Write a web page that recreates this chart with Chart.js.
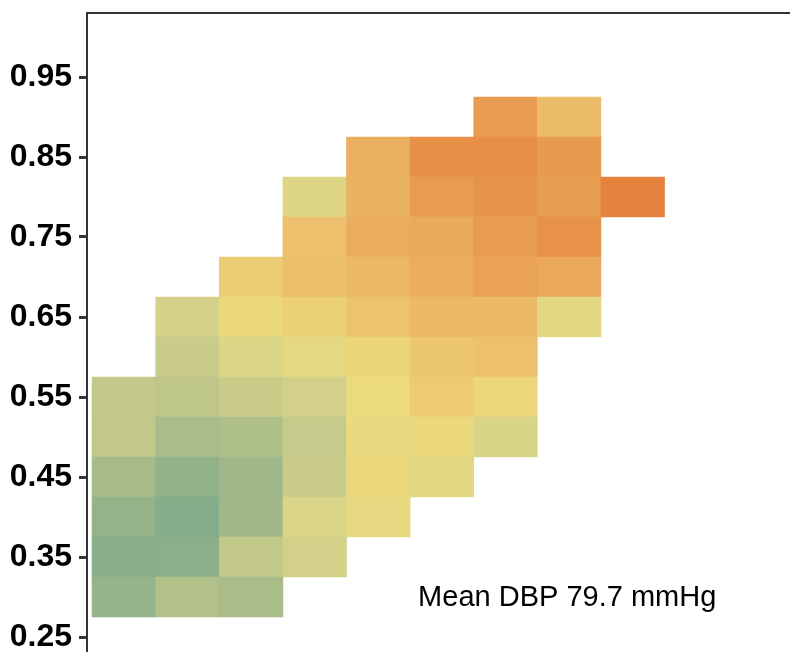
<!DOCTYPE html>
<html><head><meta charset="utf-8">
<script src="https://cdn.jsdelivr.net/npm/chart.js@4.4.1/dist/chart.umd.min.js"></script>
<style>html,body{margin:0;padding:0;overflow:hidden;background:#fff}canvas{display:block}</style>
</head><body>
<canvas id="c" width="800" height="677"></canvas>
<script>
// x bins (column index) and y bin centres
const columns = [1, 2, 3, 4, 5, 6, 7, 8, 9];
const rowCenters = [0.90, 0.85, 0.80, 0.75, 0.70, 0.65, 0.60, 0.55, 0.50, 0.45, 0.40, 0.35, 0.30];
// mean DBP (mmHg) per cell, rows top -> bottom, columns left -> right; null = empty
const dbp = [
  [null, null, null, null, null, null, 87.2, 83.5, null],
  [null, null, null, null, 84.9, 88.5, 88.6, 87.5, null],
  [null, null, null, 78.2, 84.5, 87.2, 88.1, 87.0, 90.0],
  [null, null, null, 83.1, 85.1, 85.5, 87.2, 88.4, null],
  [null, null, 81.75, 83.25, 84.0, 85.1, 86.5, 85.75, null],
  [null, 76.9, 80.25, 81.25, 82.75, 84.0, 84.0, 78.7, null],
  [null, 75.6, 77.75, 79.0, 80.6, 82.5, 83.1, null, null],
  [75.1, 74.7, 75.75, 76.75, 80.0, 81.9, 80.5, null, null],
  [75.0, 73.15, 73.6, 75.4, 79.75, 80.4, 77.25, null, null],
  [73.0, 71.4, 72.4, 75.75, 80.25, 78.7, null, null, null],
  [71.6, 70.3, 72.5, 77.5, 79.25, null, null, null, null],
  [70.6, 70.8, 75.0, 76.75, null, null, null, null, null],
  [71.7, 73.8, 73.25, null, null, null, null, null, null]
];
const yTickValues = [0.25, 0.35, 0.45, 0.55, 0.65, 0.75, 0.85, 0.95];
const meanDBP = 79.7;

// colour map (mmHg -> colour)
const cmapStops = [
  [70, '#80AB8A'], [72.5, '#A0B889'], [75, '#C2C88A'], [77.5, '#DAD588'],
  [80, '#EBDA7E'], [82.5, '#ECC670'], [85, '#EAAE60'], [87.5, '#E89A4F'], [90, '#E5823D']
];
function hex2rgb(h) { return [1, 3, 5].map(i => parseInt(h.substr(i, 2), 16)); }
function colorFor(v) {
  if (v <= cmapStops[0][0]) return cmapStops[0][1];
  for (let i = 1; i < cmapStops.length; i++) {
    if (v <= cmapStops[i][0]) {
      const [v0, c0] = cmapStops[i - 1], [v1, c1] = cmapStops[i];
      const t = (v - v0) / (v1 - v0);
      const a = hex2rgb(c0), b = hex2rgb(c1);
      const m = a.map((x, k) => Math.round(x + (b[k] - x) * t));
      return `rgb(${m[0]},${m[1]},${m[2]})`;
    }
  }
  return cmapStops[cmapStops.length - 1][1];
}

const half = (rowCenters[0] - rowCenters[1]) / 2;
const cells = [];
rowCenters.forEach((yc, r) => columns.forEach((xc, c) => {
  const v = dbp[r][c];
  if (v !== null) cells.push({ x: xc, y: [yc - half, yc + half], v: v });
}));

const meanLabel = {
  id: 'meanLabel',
  afterDraw(chart) {
    const { ctx, scales: { x, y } } = chart;
    ctx.save();
    ctx.font = '29px "Liberation Sans", Arial, sans-serif';
    ctx.fillStyle = '#000';
    ctx.textAlign = 'left';
    ctx.textBaseline = 'alphabetic';
    ctx.fillText('Mean DBP ' + meanDBP.toFixed(1) + ' mmHg', x.getPixelForValue(5.626), y.getPixelForValue(0.289));
    ctx.restore();
  }
};

new Chart(document.getElementById('c'), {
  type: 'bar',
  data: {
    datasets: [{
      data: cells,
      backgroundColor: c => colorFor(c.raw ? c.raw.v : 80),
      borderWidth: 0,
      barPercentage: 1,
      categoryPercentage: 1,
      grouped: false
    }]
  },
  options: {
    responsive: false,
    animation: false,
    layout: { padding: 0 },
    plugins: { legend: { display: false }, tooltip: { enabled: false } },
    scales: {
      x: {
        type: 'linear', position: 'top', min: 0.42, max: 11.63, offset: false,
        afterBuildTicks: s => { s.ticks = columns.map(v => ({ value: v })); },
        ticks: { display: false },
        grid: { display: false },
        border: { display: true, color: '#333', width: 2 },
        afterFit: s => { s.height = 13; s.paddingLeft = 0; s.paddingRight = 0; s.paddingTop = 0; s.paddingBottom = 0; }
      },
      y: {
        type: 'linear', min: 0.2, max: 1.03,
        afterBuildTicks: s => { s.ticks = yTickValues.map(v => ({ value: v })); },
        ticks: {
          color: '#000', padding: 7, autoSkip: false,
          font: { family: '"Liberation Sans", Arial, sans-serif', size: 32, weight: 'bold' },
          callback: v => Number(v).toFixed(2)
        },
        grid: { display: true, drawOnChartArea: false, drawTicks: true, tickLength: 8, tickColor: '#333', tickWidth: 3 },
        border: { display: true, color: '#333', width: 2 },
        afterFit: s => { s.width = 87; s.paddingTop = 0; s.paddingBottom = 0; }
      }
    }
  },
  plugins: [meanLabel]
});
</script>
</body></html>
